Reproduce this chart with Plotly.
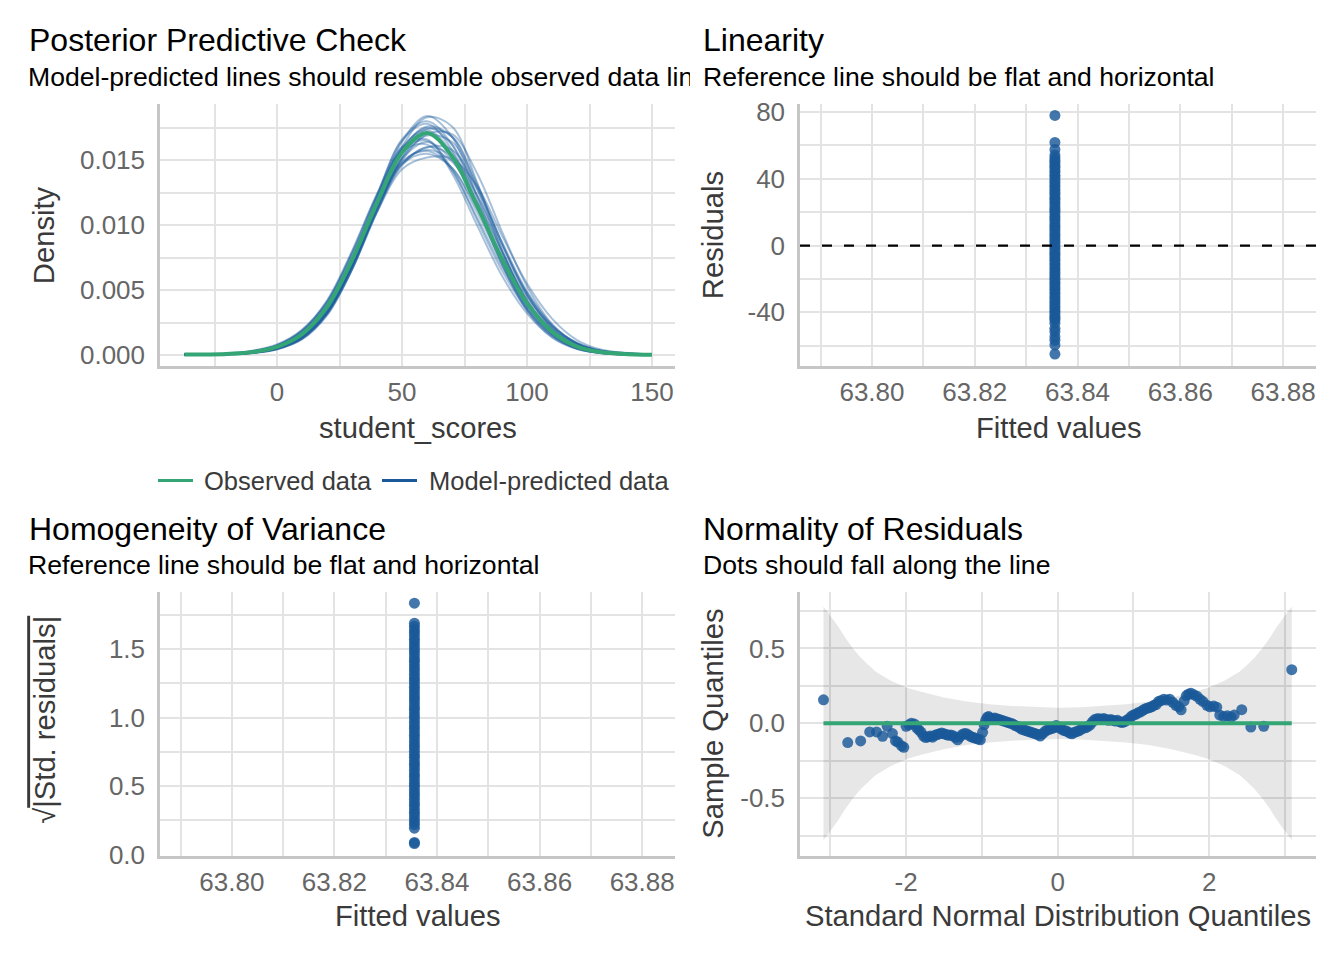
import plotly.graph_objects as go

# ---------------- data ----------------
density_x = [-37, -20, -10, 0, 10, 20, 30, 40, 50, 60, 70, 80, 90, 100, 110, 120, 130, 150]

observed_density = [0.00003, 0.00008, 0.00022, 0.00062, 0.00160, 0.00370, 0.00730, 0.01170,
                    0.01560, 0.01710, 0.01530, 0.01150, 0.00740, 0.00400, 0.00180, 0.00065,
                    0.00022, 0.00002]

predicted_densities = [
    [0.00002, 0.00006, 0.00017, 0.00048, 0.00130, 0.00320, 0.00680, 0.01160, 0.01640, 0.01840, 0.01680, 0.01220, 0.00730, 0.00360, 0.00150, 0.00050, 0.00015, 0.00001],
    [0.00004, 0.00012, 0.00030, 0.00075, 0.00180, 0.00390, 0.00740, 0.01140, 0.01470, 0.01550, 0.01440, 0.01130, 0.00760, 0.00440, 0.00220, 0.00095, 0.00035, 0.00004],
    [0.00002, 0.00006, 0.00016, 0.00045, 0.00125, 0.00310, 0.00660, 0.01110, 0.01520, 0.01740, 0.01680, 0.01320, 0.00860, 0.00460, 0.00200, 0.00070, 0.00020, 0.00001],
    [0.00003, 0.00010, 0.00028, 0.00075, 0.00190, 0.00420, 0.00800, 0.01240, 0.01600, 0.01660, 0.01400, 0.01000, 0.00610, 0.00320, 0.00140, 0.00050, 0.00016, 0.00001],
    [0.00003, 0.00009, 0.00024, 0.00062, 0.00155, 0.00350, 0.00690, 0.01110, 0.01460, 0.01600, 0.01530, 0.01230, 0.00840, 0.00480, 0.00230, 0.00090, 0.00030, 0.00003],
    [0.00002, 0.00007, 0.00020, 0.00055, 0.00150, 0.00360, 0.00740, 0.01230, 0.01650, 0.01780, 0.01580, 0.01150, 0.00700, 0.00350, 0.00150, 0.00050, 0.00015, 0.00001],
    [0.00002, 0.00006, 0.00017, 0.00048, 0.00125, 0.00320, 0.00660, 0.01100, 0.01500, 0.01700, 0.01700, 0.01400, 0.00950, 0.00530, 0.00240, 0.00090, 0.00028, 0.00002],
    [0.00003, 0.00009, 0.00025, 0.00065, 0.00165, 0.00375, 0.00720, 0.01140, 0.01510, 0.01640, 0.01500, 0.01150, 0.00750, 0.00410, 0.00190, 0.00070, 0.00022, 0.00002],
    [0.00002, 0.00007, 0.00019, 0.00052, 0.00140, 0.00330, 0.00690, 0.01160, 0.01580, 0.01750, 0.01620, 0.01230, 0.00790, 0.00420, 0.00180, 0.00060, 0.00018, 0.00001],
    [0.00004, 0.00013, 0.00033, 0.00082, 0.00195, 0.00410, 0.00770, 0.01170, 0.01490, 0.01570, 0.01440, 0.01100, 0.00720, 0.00410, 0.00200, 0.00085, 0.00030, 0.00003],
    [0.00002, 0.00007, 0.00018, 0.00050, 0.00135, 0.00320, 0.00660, 0.01130, 0.01520, 0.01690, 0.01640, 0.01300, 0.00860, 0.00470, 0.00210, 0.00080, 0.00025, 0.00002],
    [0.00003, 0.00009, 0.00026, 0.00070, 0.00180, 0.00400, 0.00780, 0.01220, 0.01580, 0.01650, 0.01430, 0.01040, 0.00650, 0.00350, 0.00160, 0.00060, 0.00019, 0.00002],
    [0.00001, 0.00004, 0.00014, 0.00044, 0.00125, 0.00320, 0.00700, 0.01210, 0.01660, 0.01800, 0.01620, 0.01180, 0.00700, 0.00340, 0.00135, 0.00045, 0.00013, 0.00001],
    [0.00003, 0.00008, 0.00022, 0.00058, 0.00145, 0.00335, 0.00680, 0.01120, 0.01470, 0.01600, 0.01580, 0.01280, 0.00870, 0.00490, 0.00230, 0.00090, 0.00030, 0.00002],
    [0.00002, 0.00007, 0.00020, 0.00058, 0.00150, 0.00355, 0.00720, 0.01190, 0.01600, 0.01730, 0.01560, 0.01160, 0.00720, 0.00380, 0.00170, 0.00060, 0.00018, 0.00001],
    [0.00003, 0.00008, 0.00021, 0.00055, 0.00140, 0.00335, 0.00680, 0.01100, 0.01430, 0.01520, 0.01510, 0.01300, 0.00920, 0.00550, 0.00280, 0.00115, 0.00040, 0.00004],
    [0.00002, 0.00006, 0.00017, 0.00050, 0.00135, 0.00330, 0.00690, 0.01150, 0.01580, 0.01760, 0.01680, 0.01280, 0.00800, 0.00420, 0.00180, 0.00060, 0.00018, 0.00001],
    [0.00003, 0.00010, 0.00027, 0.00072, 0.00185, 0.00410, 0.00790, 0.01230, 0.01570, 0.01620, 0.01420, 0.01060, 0.00680, 0.00370, 0.00170, 0.00065, 0.00021, 0.00002],
    [0.00002, 0.00005, 0.00015, 0.00044, 0.00120, 0.00305, 0.00660, 0.01140, 0.01600, 0.01830, 0.01760, 0.01330, 0.00810, 0.00400, 0.00160, 0.00050, 0.00014, 0.00001],
    [0.00003, 0.00009, 0.00025, 0.00066, 0.00165, 0.00370, 0.00720, 0.01140, 0.01480, 0.01580, 0.01490, 0.01180, 0.00800, 0.00460, 0.00220, 0.00085, 0.00028, 0.00002],
]

fitted_value = 63.8356

residuals = [78.0, 61.8, 57.6, 54.2, 52.6, 51.0, 49.8, 48.1, 46.9, 45.3, 44.0, 42.2, 41.1, 39.5,
             38.0, 36.4, 35.2, 33.6, 32.1, 30.8, 29.0, 27.7, 26.3, 24.9, 23.2, 21.8, 20.5, 19.0,
             17.4, 16.1, 14.7, 13.0, 11.6, 10.2, 8.8, 7.1, 5.9, 4.3, 2.8, 1.5, -0.2, -1.6, -3.1,
             -4.6, -5.9, -7.5, -8.8, -10.4, -11.7, -13.3, -14.6, -16.2, -17.5, -19.1, -20.4,
             -22.0, -23.3, -24.9, -26.2, -27.8, -29.1, -30.7, -32.0, -33.6, -34.9, -36.5, -37.8,
             -39.4, -40.7, -42.3, -43.6, -44.6, -46.5, -49.6, -51.5, -54.6, -56.8, -59.6, -65.0]

sqrt_std_residuals = [1.833, 1.687, 1.665, 1.640, 1.620, 1.595, 1.570, 1.550, 1.525, 1.500, 1.480,
                      1.455, 1.430, 1.410, 1.385, 1.360, 1.340, 1.315, 1.290, 1.270, 1.245, 1.220,
                      1.200, 1.175, 1.150, 1.130, 1.105, 1.080, 1.060, 1.035, 1.010, 0.990, 0.965,
                      0.940, 0.920, 0.895, 0.870, 0.850, 0.825, 0.800, 0.780, 0.755, 0.730, 0.710,
                      0.685, 0.660, 0.640, 0.615, 0.590, 0.570, 0.545, 0.520, 0.500, 0.475, 0.450,
                      0.430, 0.405, 0.380, 0.360, 0.335, 0.310, 0.290, 0.265, 0.240, 0.220, 0.194,
                      0.090, 0.082]

qq_theoretical = [-3.09, -2.77, -2.60, -2.48, -2.39, -2.31, -2.25, -2.18, -2.14, -2.11, -2.06, -2.03,
                  -2.00, -1.96, -1.93, -1.89, -1.86, -1.83, -1.80, -1.77, -1.74, -1.71, -1.68, -1.65,
                  -1.62, -1.59, -1.56, -1.53, -1.50, -1.47, -1.44, -1.41, -1.38, -1.35, -1.32, -1.29,
                  -1.26, -1.23, -1.20, -1.17, -1.14, -1.11, -1.08, -1.05, -1.02, -0.99, -0.97, -0.95,
                  -0.93, -0.91, -0.89, -0.86, -0.83, -0.80, -0.77, -0.74, -0.71, -0.68, -0.65, -0.62,
                  -0.59, -0.56, -0.53, -0.50, -0.47, -0.44, -0.41, -0.38, -0.35, -0.32, -0.29, -0.26,
                  -0.23, -0.20, -0.17, -0.14, -0.11, -0.08, -0.05, -0.02, 0.01, 0.04, 0.07, 0.10,
                  0.13, 0.16, 0.19, 0.22, 0.25, 0.28, 0.31, 0.34, 0.37, 0.40, 0.43, 0.46, 0.49, 0.52,
                  0.55, 0.58, 0.61, 0.64, 0.67, 0.70, 0.73, 0.76, 0.79, 0.82, 0.85, 0.88, 0.91, 0.94,
                  0.97, 1.00, 1.03, 1.06, 1.09, 1.12, 1.15, 1.18, 1.21, 1.24, 1.27, 1.30, 1.33, 1.36,
                  1.40, 1.44, 1.48, 1.52, 1.56, 1.60, 1.63, 1.67, 1.70, 1.73, 1.76, 1.80, 1.84, 1.88,
                  1.92, 1.97, 2.01, 2.06, 2.10, 2.14, 2.19, 2.24, 2.29, 2.33, 2.43, 2.55, 2.72, 3.09]

qq_sample = [0.157, -0.128, -0.117, -0.057, -0.057, -0.086, -0.020, -0.068, -0.117, -0.125, -0.150, -0.160,
             -0.020, -0.010, 0.000, -0.005, -0.030, -0.045, -0.060, -0.085, -0.095, -0.090, -0.085, -0.092,
             -0.080, -0.075, -0.070, -0.065, -0.070, -0.075, -0.080, -0.078, -0.082, -0.095, -0.110, -0.090,
             -0.075, -0.068, -0.070, -0.080, -0.090, -0.095, -0.100, -0.105, -0.110, -0.060, -0.010, 0.020,
             0.040, 0.045, 0.035, 0.030, 0.035, 0.030, 0.025, 0.020, 0.015, 0.010, 0.005, 0.000,
             -0.005, -0.015, -0.020, -0.030, -0.040, -0.045, -0.050, -0.055, -0.060, -0.065, -0.070, -0.075,
             -0.085, -0.070, -0.055, -0.045, -0.040, -0.035, -0.030, -0.015, -0.025, -0.035, -0.045, -0.050,
             -0.055, -0.065, -0.070, -0.060, -0.055, -0.050, -0.040, -0.030, -0.030, -0.020, -0.010, 0.010,
             0.025, 0.030, 0.030, 0.028, 0.032, 0.025, 0.020, 0.025, 0.020, 0.015, 0.020, 0.010,
             0.005, 0.010, 0.020, 0.030, 0.045, 0.055, 0.060, 0.070, 0.075, 0.085, 0.095, 0.100,
             0.105, 0.110, 0.120, 0.125, 0.145, 0.150, 0.160, 0.155, 0.160, 0.140, 0.120, 0.110,
             0.090, 0.150, 0.185, 0.195, 0.200, 0.190, 0.180, 0.160, 0.145, 0.120, 0.110, 0.115,
             0.108, 0.055, 0.045, 0.050, 0.042, 0.055, 0.091, -0.025, -0.020, 0.358]

band_x = [-3.09, -3.0, -2.9, -2.8, -2.7, -2.6, -2.5, -2.4, -2.2, -2.0, -1.8, -1.5, -1.2, -0.9, -0.6, -0.3,
          0.0, 0.3, 0.6, 0.9, 1.2, 1.5, 1.8, 2.0, 2.2, 2.4, 2.5, 2.6, 2.7, 2.8, 2.9, 3.0, 3.09]
band_upper = [0.78, 0.72, 0.65, 0.57, 0.50, 0.44, 0.39, 0.345, 0.285, 0.24, 0.21, 0.172, 0.145, 0.127,
              0.116, 0.108, 0.104, 0.108, 0.116, 0.127, 0.145, 0.172, 0.21, 0.24, 0.285, 0.345, 0.39,
              0.44, 0.50, 0.57, 0.65, 0.72, 0.78]
band_lower = [-0.78, -0.72, -0.65, -0.57, -0.50, -0.44, -0.39, -0.345, -0.285, -0.24, -0.21, -0.172,
              -0.145, -0.127, -0.116, -0.108, -0.104, -0.108, -0.116, -0.127, -0.145, -0.172, -0.21,
              -0.24, -0.285, -0.345, -0.39, -0.44, -0.50, -0.57, -0.65, -0.72, -0.78]

# tick labels
p1_xticks, p1_xlabels = [0, 50, 100, 150], ["0", "50", "100", "150"]
p1_yticks, p1_ylabels = [0, 0.005, 0.010, 0.015], ["0.000", "0.005", "0.010", "0.015"]
fit_ticks = [63.80, 63.82, 63.84, 63.86, 63.88]
fit_labels = ["63.80", "63.82", "63.84", "63.86", "63.88"]
p2_yticks, p2_ylabels = [-40, 0, 40, 80], ["-40", "0", "40", "80"]
p3_yticks, p3_ylabels = [0, 0.5, 1.0, 1.5], ["0.0", "0.5", "1.0", "1.5"]
p4_xticks, p4_xlabels = [-2, 0, 2], ["-2", "0", "2"]
p4_yticks, p4_ylabels = [-0.5, 0, 0.5], ["-0.5", "0.0", "0.5"]

# ---------------- styling ----------------
FONT = "Liberation Sans, Arial, Helvetica, sans-serif"
BLUE = "rgb(26,89,152)"
BLUE_DOT = "rgba(26,89,152,0.82)"
BLUE_LINE = "rgba(27,92,158,0.38)"
GREEN = "rgb(52,165,117)"
GRID = "#e3e3e3"
AXIS = "#c6c6c6"
TICK_COL = "#666666"
TITLE_COL = "#3a3a3a"
TICK_SIZE = 26

# page is 1344x960; the browser adds an 8px body margin, so the figure is 1328x944 at (8, 8)
OFF = 8
W, H = 1344 - 2 * OFF, 960 - 2 * OFF
# vertical correction measured from the rendered snapshot
VS, VA = 0.9784, 6.9


def px(x):
    return (x - OFF) / W


def py(y):
    yy = (y - VA) / VS
    return 1 - (yy - OFF) / H


def xd(a, b):
    return [px(a), px(b)]


def yd(top, bottom):
    return [py(bottom), py(top)]


fig = go.Figure()

# Panel 1: posterior predictive check
for dens in predicted_densities:
    fig.add_trace(go.Scatter(x=density_x, y=dens, mode="lines", line=dict(color=BLUE_LINE, width=2, shape="spline"),
                             showlegend=False, hoverinfo="skip", xaxis="x", yaxis="y"))
fig.add_trace(go.Scatter(x=density_x, y=observed_density, mode="lines", line=dict(color=GREEN, width=4, shape="spline"),
                         showlegend=False, xaxis="x", yaxis="y"))

# Panel 2: linearity
fig.add_trace(go.Scatter(x=[fitted_value] * len(residuals), y=residuals, mode="markers",
                         marker=dict(color=BLUE_DOT, size=11, line=dict(width=0)),
                         showlegend=False, xaxis="x2", yaxis="y2"))

# Panel 3: homogeneity of variance
fig.add_trace(go.Scatter(x=[fitted_value] * len(sqrt_std_residuals), y=sqrt_std_residuals, mode="markers",
                         marker=dict(color=BLUE_DOT, size=11, line=dict(width=0)),
                         showlegend=False, xaxis="x3", yaxis="y3"))

# Panel 4: normality of residuals
fig.add_trace(go.Scatter(x=band_x, y=band_lower, mode="lines", line=dict(width=0, color="rgba(0,0,0,0)"),
                         showlegend=False, hoverinfo="skip", xaxis="x4", yaxis="y4"))
fig.add_trace(go.Scatter(x=band_x, y=band_upper, mode="lines", line=dict(width=0, color="rgba(0,0,0,0)"),
                         fill="tonexty", fillcolor="rgba(0,0,0,0.095)",
                         showlegend=False, hoverinfo="skip", xaxis="x4", yaxis="y4"))
fig.add_trace(go.Scatter(x=qq_theoretical, y=qq_sample, mode="markers",
                         marker=dict(color=BLUE_DOT, size=11, line=dict(width=0)),
                         showlegend=False, xaxis="x4", yaxis="y4"))
fig.add_trace(go.Scatter(x=[qq_theoretical[0], qq_theoretical[-1]], y=[0, 0], mode="lines",
                         line=dict(color=GREEN, width=4), showlegend=False, xaxis="x4", yaxis="y4"))


def axis(domain, rng, tickvals, ticktext, minor_vals, anchor, is_x):
    return dict(domain=domain, range=rng, tickmode="array", tickvals=tickvals, ticktext=ticktext,
                showgrid=True, gridcolor=GRID, gridwidth=2, zeroline=False,
                showline=True, linecolor=AXIS, linewidth=2.5, mirror=False,
                ticks="outside", ticklen=(1 if is_x else 7), tickcolor="rgba(0,0,0,0)",
                tickfont=dict(family=FONT, size=TICK_SIZE, color=TICK_COL),
                minor=dict(tickmode="array", tickvals=minor_vals, showgrid=True, gridcolor=GRID, gridwidth=2,
                           ticks=""),
                anchor=anchor, fixedrange=True)


layout = dict(
    width=W, height=H, margin=dict(l=0, r=0, t=0, b=0),
    paper_bgcolor="white", plot_bgcolor="white",
    font=dict(family=FONT, color=TITLE_COL),
    showlegend=False,
    xaxis=axis(xd(160, 675), [-46.8, 159.2], p1_xticks, p1_xlabels, [-25, 25, 75, 125], "y", True),
    yaxis=axis(yd(104, 366), [-0.00085, 0.01931], p1_yticks, p1_ylabels, [0.0025, 0.0075, 0.0125, 0.0175], "x", False),
    xaxis2=axis(xd(800, 1316), [63.786, 63.8864], fit_ticks, fit_labels, [63.79, 63.81, 63.83, 63.85, 63.87], "y2", True),
    yaxis2=axis(yd(104, 366), [-72.2, 84.7], p2_yticks, p2_ylabels, [-60, -20, 20, 60], "x2", False),
    xaxis3=axis(xd(160, 675), [63.786, 63.8864], fit_ticks, fit_labels, [63.79, 63.81, 63.83, 63.85, 63.87], "y3", True),
    yaxis3=axis(yd(592, 856), [-0.007, 1.9155], p3_yticks, p3_ylabels, [0.25, 0.75, 1.25, 1.75], "x3", False),
    xaxis4=axis(xd(800, 1316), [-3.40, 3.41], p4_xticks, p4_xlabels, [-3, -1, 1, 3], "y4", True),
    yaxis4=axis(yd(592, 856), [-0.883, 0.877], p4_yticks, p4_ylabels, [-0.75, -0.25, 0.25, 0.75], "x4", False),
    shapes=[
        dict(type="line", xref="x2 domain", x0=0, x1=1, yref="y2", y0=0, y1=0,
             line=dict(color="black", width=2.2, dash="10px,12px"), layer="above"),
        # legend keys
        dict(type="line", xref="paper", yref="paper", x0=px(158), x1=px(193), y0=py(480.5), y1=py(480.5),
             line=dict(color=GREEN, width=3)),
        dict(type="line", xref="paper", yref="paper", x0=px(382), x1=px(417), y0=py(480.5), y1=py(480.5),
             line=dict(color=BLUE, width=3)),
    ],
)
fig.update_layout(**layout)


def text(s, x, y, size, color, anchor="left", angle=0, width=None):
    d = dict(text=s, x=px(x), y=py(y), xref="paper", yref="paper", showarrow=False,
             xanchor=anchor, yanchor="middle", textangle=angle,
             font=dict(family=FONT, size=size, color=color))
    if width is not None:
        d["width"] = width
        d["align"] = "left"
    fig.add_annotation(**d)


# legend labels
text("Observed data", 202, 481, 25.5, TITLE_COL)
text("Model-predicted data", 427, 481, 25.5, TITLE_COL)

# titles and subtitles
text("Posterior Predictive Check", 27, 40, 32, "black")
text("Model-predicted lines should resemble observed data line", 26, 76.5, 26.6, "black", width=662)
text("Linearity", 701, 40, 32, "black")
text("Reference line should be flat and horizontal", 701, 76.5, 26.6, "black")
text("Homogeneity of Variance", 27, 529, 32, "black")
text("Reference line should be flat and horizontal", 26, 565, 26.6, "black")
text("Normality of Residuals", 701, 529, 32, "black")
text("Dots should fall along the line", 701, 565, 26.6, "black")

# axis titles
text("student_scores", 417.5, 428, 29.2, TITLE_COL, anchor="center")
text("Fitted values", 1058, 428, 29.2, TITLE_COL, anchor="center")
text("Fitted values", 417.5, 916, 29.2, TITLE_COL, anchor="center")
text("Standard Normal Distribution Quantiles", 1058, 916, 29.2, TITLE_COL, anchor="center")
text("Density", 44, 235, 29.2, TITLE_COL, anchor="center", angle=-90)
text("Residuals", 713, 235, 29.2, TITLE_COL, anchor="center", angle=-90)
text("√<span style='text-decoration:overline'>|Std. residuals|</span>", 45, 720, 29.2, TITLE_COL,
     anchor="center", angle=-90)
text("Sample Quantiles", 713, 724, 29.2, TITLE_COL, anchor="center", angle=-90)

fig.write_html("out.html", config={"displayModeBar": False})
